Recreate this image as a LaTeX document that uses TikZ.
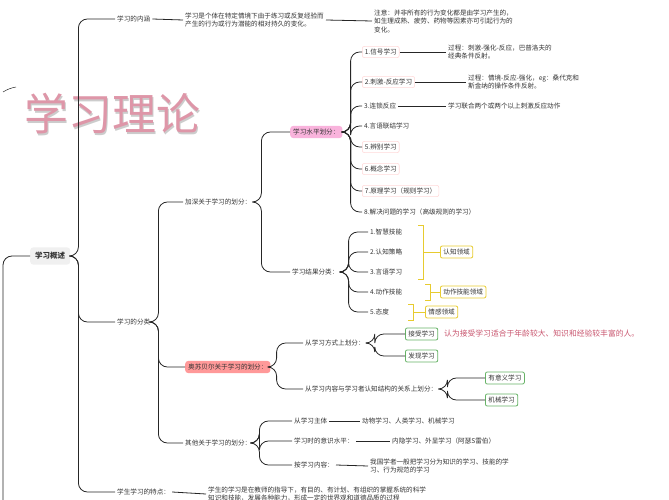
\documentclass[tikz,border=0pt]{standalone}
\usepackage{fontspec}
\newfontfamily\cjk{Noto Sans CJK SC}
\begin{document}
\begin{tikzpicture}[x=1pt,y=-1pt,
  every node/.style={font=\cjk\fontsize{6.6}{8.5}\selectfont, text=black!80, inner sep=2pt, anchor=west, align=left},
  conn/.style={draw=black!85, line width=0.8pt, rounded corners=9pt},
  line/.style={draw=black!85, line width=0.8pt},
  pbox/.style={draw=red!15, rounded corners=2pt, line width=0.6pt, inner sep=2.5pt},
  hbox/.style={fill=magenta!30, rounded corners=3pt, inner sep=3pt},
  rbox/.style={fill=red!40, rounded corners=3pt, inner sep=3pt},
  gbox/.style={draw=green!50!black!60, rounded corners=2pt, line width=0.8pt, inner sep=3pt},
  ybox/.style={draw=yellow!60!brown, rounded corners=2pt, line width=0.8pt, inner sep=3pt},
  brk/.style={draw=yellow!60!brown, line width=0.9pt}]
\useasboundingbox (0,0) rectangle (669,500);
\node[font=\cjk\fontsize{44}{44}\selectfont, text=black!20, anchor=center] (wmshadow) at (113.2,115.2) {学习理论};
\node[font=\cjk\fontsize{44}{44}\selectfont, text={rgb,255:red,222;green,150;blue,168}, anchor=center] (wm) at (112,114) {学习理论};
\draw[line, line width=0.5pt] (3,92) to[bend left=10] (16,87);
% root
\node[fill=black!6, rounded corners=3pt, font=\cjk\bfseries\fontsize{7.5}{9}\selectfont, inner sep=5pt] (root) at (30,256) {学习概述};
\coordinate (lt) at (3,500);
\draw[conn] (lt) |- (root.west);
% level 1
\node (nh) at (115,19) {学习的内涵};
\node (fl) at (115,322) {学习的分类};
\node (td) at (115,492) {学生学习的特点：};
\foreach \c in {nh,fl,td} \draw[conn] (root.east) -- ++(8,0) |- (\c.west);
\node (nhd) at (183,20) {学习是个体在特定情境下由于练习或反复经验而\\产生的行为或行为潜能的相对持久的变化。};
\node (zy) at (372,21) {注意：并非所有的行为变化都是由学习产生的，\\如生理成熟、疲劳、药物等因素亦可引起行为的\\变化。};
\draw[line] (nh.east) -- (nhd.west);
\draw[line] (nhd.east) -- (zy.west);
\node (tdd) at (206,494) {学生的学习是在教师的指导下，有目的、有计划、有组织的掌握系统的科学\\知识和技能，发展各种能力，形成一定的世界观和道德品质的过程};
\draw[line] (td.east) -- (tdd.west);
% level 2
\node (js) at (183,202) {加深关于学习的划分：};
\node[rbox] (asb) at (185,367) {奥苏贝尔关于学习的划分：};
\node (qt) at (183,443) {其他关于学习的划分：};
\foreach \c in {js,asb,qt} \draw[conn] (fl.east) -- ++(6,0) |- (\c.west);
% 学习水平划分
\node[hbox] (sp) at (290,132) {学习水平划分：};
\node (jg) at (290,272) {学习结果分类：};
\foreach \c in {sp,jg} \draw[conn] (js.east) -- ++(8,0) |- (\c.west);
\node[pbox] (s1) at (362,52) {1.信号学习};
\node[pbox] (s2) at (362,82) {2.刺激-反应学习};
\node (s3) at (362,106) {3.连锁反应};
\node (s4) at (362,126) {4.言语联结学习};
\node[pbox] (s5) at (362,147) {5.辨别学习};
\node[pbox] (s6) at (362,169) {6.概念学习};
\node[pbox] (s7) at (362,191) {7.原理学习（规则学习）};
\node (s8) at (362,212) {8.解决问题的学习（高级规则的学习）};
\foreach \c in {s1,s2,s3,s4,s5,s6,s7,s8} \draw[conn] (sp.east) -- ++(8,0) |- (\c.west);
\node (d1) at (446,52) {过程：刺激-强化-反应，巴普洛夫的\\经典条件反射。};
\node (d2) at (466,82) {过程：情境-反应-强化，eg：桑代克和\\斯金纳的操作条件反射。};
\node (d3) at (446,106) {学习联合两个或两个以上刺激反应动作};
\draw[line] (s1.east) -- (d1.west);
\draw[line] (s2.east) -- (d2.west);
\draw[line] (s3.east) -- (d3.west);
% 学习结果
\node (r1) at (368,232) {1.智慧技能};
\node (r2) at (368,252) {2.认知策略};
\node (r3) at (368,272) {3.言语学习};
\node (r4) at (368,292) {4.动作技能};
\node (r5) at (368,312) {5.态度};
\foreach \c in {r1,r2,r3,r4,r5} \draw[conn] (jg.east) -- ++(8,0) |- (\c.west);
\node[ybox] (y1) at (440,252) {认知领域};
\node[ybox] (y2) at (440,292) {动作技能领域};
\node[ybox] (y3) at (425,312) {情感领域};
\draw[brk] (418,225) -- (423,225) -- (423,279) -- (418,279);
\draw[brk] (423,252) -- (y1.west);
\draw[brk] (425,284) -- (430,284) -- (430,300) -- (425,300);
\draw[brk] (430,292) -- (y2.west);
\draw[brk] (408,304) -- (413,304) -- (413,320) -- (408,320);
\draw[brk] (413,312) -- (y3.west);
% 奥苏贝尔
\node (fs) at (303,343) {从学习方式上划分：};
\node (gx) at (303,389) {从学习内容与学习者认知结构的关系上划分：};
\foreach \c in {fs,gx} \draw[conn] (asb.east) -- ++(6,0) |- (\c.west);
\node[gbox] (jsx) at (405,334) {接受学习};
\node[gbox] (fx) at (405,356) {发现学习};
\foreach \c in {jsx,fx} \draw[conn] (fs.east) -- ++(8,0) |- (\c.west);
\node[text={rgb,255:red,200;green,85;blue,110}, font=\cjk\fontsize{7.8}{9}\selectfont, inner sep=1pt] (note) at (443,334) {认为接受学习适合于年龄较大、知识和经验较丰富的人。};
\node[gbox] (yy) at (485,378) {有意义学习};
\node[gbox] (jx) at (485,400) {机械学习};
\foreach \c in {yy,jx} \draw[conn] (gx.east) -- ++(8,0) |- (\c.west);
% 其他
\node (o1) at (292,421) {从学习主体};
\node (o2) at (292,441) {学习时的意识水平：};
\node (o3) at (292,465) {按学习内容：};
\foreach \c in {o1,o2,o3} \draw[conn] (qt.east) -- ++(6,0) |- (\c.west);
\node (e1) at (360,421) {动物学习、人类学习、机械学习};
\node (e2) at (390,441) {内隐学习、外显学习（阿瑟S雷伯）};
\node (e3) at (368,466) {我国学者一般把学习分为知识的学习、技能的学\\习、行为规范的学习};
\draw[line] (o1.east) -- (e1.west);
\draw[line] (o2.east) -- (e2.west);
\draw[line] (o3.east) -- (e3.west);
\end{tikzpicture}
\end{document}
